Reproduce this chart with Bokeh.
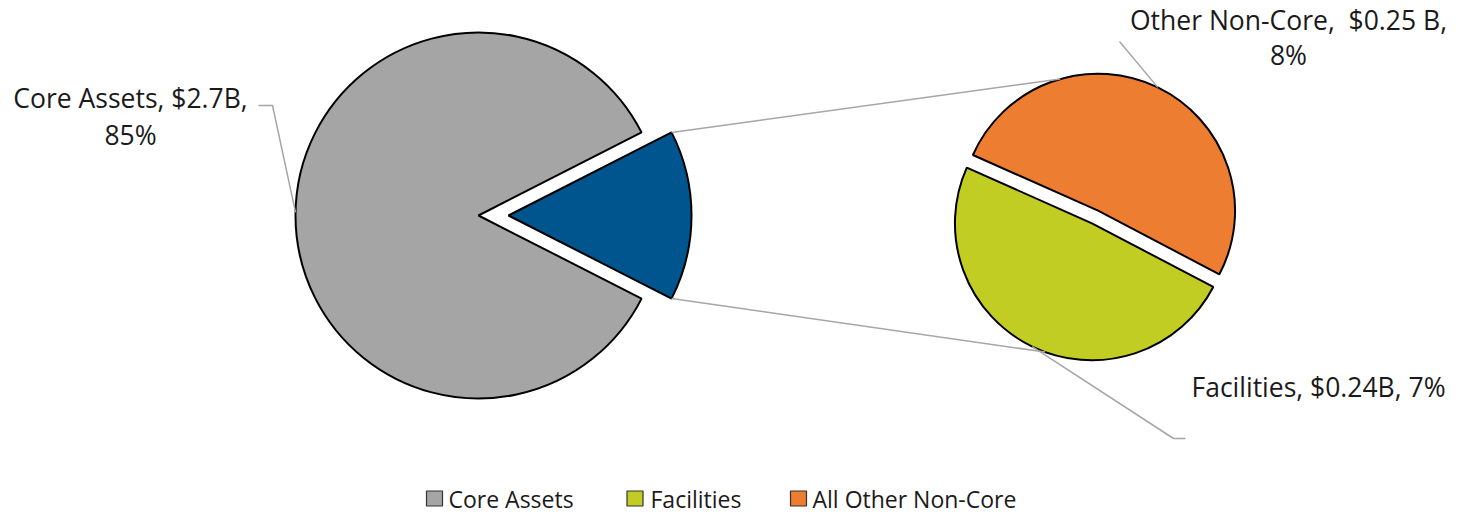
import math
from bokeh.plotting import figure
from bokeh.models import Range1d
from bokeh.core.properties import value
from bokeh.embed import file_html
from bokeh.resources import INLINE

# ---------------- data ----------------
categories = ["Core Assets", "Facilities", "All Other Non-Core"]
amounts_b = [2.7, 0.24, 0.25]
shares_pct = [85, 7, 8]
colors = ["#A5A5A5", "#C2CD23", "#ED7D31"]
noncore_color = "#00558F"
core_label = ["Core Assets, $2.7B,", "85%"]
facilities_label = ["Facilities, $0.24B, 7%"]
other_label = ["Other Non-Core, \u00a0$0.25 B,", "8%"]

# ---------------- layout ----------------
W, H = 1447, 515
FONT = "Open Sans"
LINE_GRAY = "#A6A6A6"
TXT = "#1a1a1a"
OUTLINE_W = 2.0

p = figure(width=W, height=H, x_range=Range1d(0, W), y_range=Range1d(0, H),
           x_axis_type=None, y_axis_type=None, toolbar_location=None,
           output_backend="svg", min_border=0)
p.outline_line_color = None
p.background_fill_color = "white"

# main pie
main_c = (478.0, 300.0)
main_r = 183.0
noncore_pct = shares_pct[1] + shares_pct[2]
noncore_deg = noncore_pct / 100 * 360.0
half = noncore_deg / 2
blue_explode = 30.0
blue_c = (main_c[0] + blue_explode, main_c[1])

p.wedge(x=[main_c[0]], y=[main_c[1]], radius=main_r,
        start_angle=[math.radians(half)], end_angle=[math.radians(360 - half)],
        fill_color=colors[0], line_color="black", line_width=OUTLINE_W)
p.wedge(x=[blue_c[0]], y=[blue_c[1]], radius=main_r,
        start_angle=[math.radians(-half)], end_angle=[math.radians(half)],
        fill_color=noncore_color, line_color="black", line_width=OUTLINE_W)

# secondary pie
sec_c = (1094.5, 298.5)
sec_r = 137.0
sub_total = amounts_b[1] + amounts_b[2]
fac_deg = amounts_b[1] / sub_total * 360.0
fac_start = 156.0
fac_end = fac_start + fac_deg
oth_start = fac_end
oth_end = fac_start + 360.0
sec_explode = 7.0

def explode(c, a0, a1, d):
    m = math.radians((a0 + a1) / 2)
    return (c[0] + d * math.cos(m), c[1] + d * math.sin(m)), (a0 + a1) / 2

fac_c, fac_mid = explode(sec_c, fac_start, fac_end, sec_explode)
oth_c, oth_mid = explode(sec_c, oth_start, oth_end, sec_explode)

p.wedge(x=[fac_c[0]], y=[fac_c[1]], radius=sec_r,
        start_angle=[math.radians(fac_start)], end_angle=[math.radians(fac_end)],
        fill_color=colors[1], line_color="black", line_width=OUTLINE_W)
p.wedge(x=[oth_c[0]], y=[oth_c[1]], radius=sec_r,
        start_angle=[math.radians(oth_start)], end_angle=[math.radians(oth_end)],
        fill_color=colors[2], line_color="black", line_width=OUTLINE_W)

def pt(c, r, deg):
    a = math.radians(deg)
    return (c[0] + r * math.cos(a), c[1] + r * math.sin(a))

# connectors
b_top = pt(blue_c, main_r, half)
b_bot = pt(blue_c, main_r, -half)
o_top = pt(oth_c, sec_r, 106)
g_bot = pt(fac_c, sec_r, 250)
p.line(x=[b_top[0], o_top[0]], y=[b_top[1], o_top[1]], line_color=LINE_GRAY, line_width=1.5)
p.line(x=[b_bot[0], g_bot[0]], y=[b_bot[1], g_bot[1]], line_color=LINE_GRAY, line_width=1.5)

# leader lines
core_pt = pt(main_c, main_r, 179)
p.line(x=[258, 272, core_pt[0]], y=[410, 410, core_pt[1]], line_color=LINE_GRAY, line_width=1.5)
oth_pt = pt(oth_c, sec_r, oth_mid)
p.line(x=[1119, oth_pt[0]], y=[474, oth_pt[1]], line_color=LINE_GRAY, line_width=1.5)
fac_pt = pt(fac_c, sec_r, fac_mid)
p.line(x=[fac_pt[0], 1173, 1185], y=[fac_pt[1], 77, 77], line_color=LINE_GRAY, line_width=1.5)

# labels
lab_kw = dict(text_font=value(FONT), text_font_size="26.5px", text_color=TXT,
              text_baseline="middle")
p.text(x=[130, 130], y=[417.5, 381], text=core_label, text_align="center", **lab_kw)
p.text(x=[1288, 1288], y=[496, 461], text=other_label, text_align="center", **lab_kw)
p.text(x=[1191], y=[128.5], text=facilities_label, text_align="left", **lab_kw)

# legend (manual)
leg_sq_x = [434, 634.5, 798]
leg_txt_x = [448, 650, 812]
p.rect(x=leg_sq_x, y=[17] * 3, width=16, height=15,
       fill_color=colors, line_color="#333333", line_width=1.2)
p.text(x=leg_txt_x, y=[17] * 3, text=categories,
       text_font=value(FONT), text_font_size="23px", text_color=TXT,
       text_align="left", text_baseline="middle")

open("out.html", "w").write(file_html(p, INLINE))
